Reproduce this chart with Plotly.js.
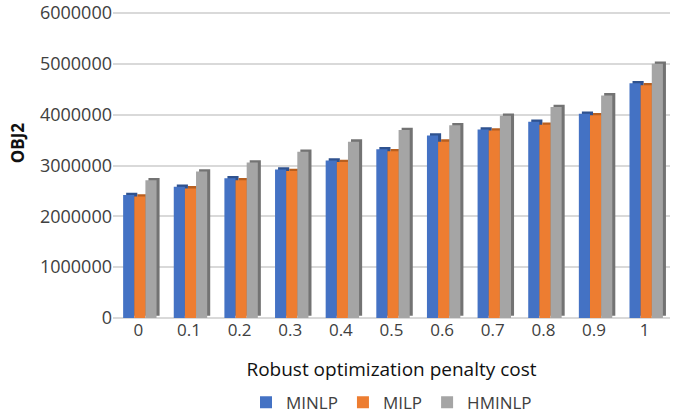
<!DOCTYPE html>
<html>
<head>
<meta charset="utf-8">
<script src="https://cdn.plot.ly/plotly-3.0.1.min.js"></script>
<style>html,body{margin:0;padding:0;background:#fff;}#chart{width:685px;height:416px;}</style>
</head>
<body>
<div id="chart"></div>
<script>
const categories = ["0","0.1","0.2","0.3","0.4","0.5","0.6","0.7","0.8","0.9","1"];
const minlp  = [2420000,2580000,2750000,2920000,3100000,3320000,3590000,3710000,3860000,4020000,4620000];
const milp   = [2390000,2550000,2710000,2890000,3070000,3280000,3470000,3690000,3800000,3990000,4580000];
const hminlp = [2710000,2880000,3060000,3270000,3470000,3700000,3790000,3980000,4150000,4380000,5000000];
const seriesNames = ["MINLP","MILP","HMINLP"];
const yTicks = [0,1000000,2000000,3000000,4000000,5000000,6000000];

const xs = categories.map((c,i)=>i);
const colors = ["#4472C4","#ED7D31","#A5A5A5"];
const darkColors = ["#2F528F","#B85F1F","#737373"];
const offsets = [-0.30,-0.08,0.14];
const barW = 0.22;
const depthX = 0.06, depthY = 45000;
const data = [];
const all = [minlp, milp, hminlp];
// shadow (side/top) faces for pseudo-3D look
all.forEach((vals,k)=>{
  data.push({type:'bar', x:xs, y:vals, base:vals.map(()=>depthY), width:barW, offset:offsets[k]+depthX,
    marker:{color:darkColors[k]}, showlegend:false, hoverinfo:'skip'});
});
all.forEach((vals,k)=>{
  data.push({type:'bar', name:seriesNames[k], x:xs, y:vals, width:barW, offset:offsets[k],
    marker:{color:colors[k]}});
});

const layout = {
  width:685, height:416,
  margin:{l:113, r:15, t:10, b:98, autoexpand:false},
  barmode:'overlay',
  paper_bgcolor:'#fff', plot_bgcolor:'#fff',
  font:{family:'Open Sans, sans-serif', color:'#404040'},
  xaxis:{tickmode:'array', tickvals:xs, ticktext:categories, range:[-0.5,10.5],
    showgrid:false, zeroline:false, showline:false, ticks:'', automargin:false,
    tickfont:{size:17, color:'#404040'},
    title:{text:'Robust optimization penalty cost', font:{size:19, color:'#111'}, standoff:22}},
  yaxis:{range:[0,6060000], tickmode:'array', tickvals:yTicks, ticktext:yTicks.map(String), automargin:false,
    ticklabeloverflow:'allow',
    showgrid:true, gridcolor:'#D9D9D9', gridwidth:2, zeroline:true, zerolinecolor:'#D9D9D9', zerolinewidth:2,
    showline:false, ticks:'', ticklen:0, tickfont:{size:18, color:'#404040'}},
  legend:{orientation:'h', x:0.5, xanchor:'center', y:-0.275, yanchor:'middle',
    font:{size:17, color:'#404040'}, traceorder:'normal'},
  annotations:[{xref:'paper', yref:'paper', x:-0.195, y:0.57, text:'<b>OBJ2</b>', textangle:-90,
    showarrow:false, font:{size:17, color:'#111'}}]
};
Plotly.newPlot('chart', data, layout, {staticPlot:true, displayModeBar:false});
</script>
</body>
</html>
